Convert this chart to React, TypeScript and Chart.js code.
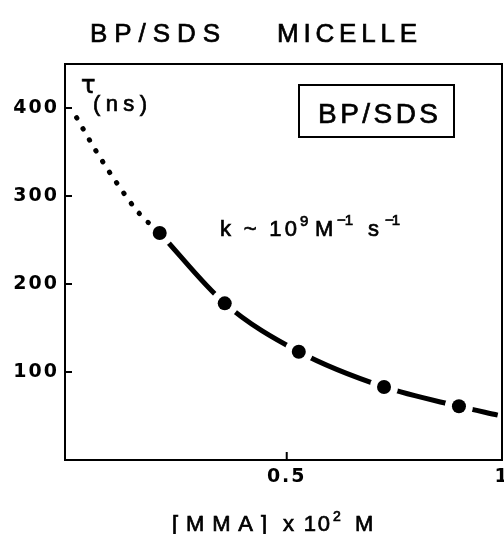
import React, { useEffect, useRef } from 'react';
import { Chart, registerables } from 'chart.js';

Chart.register(...registerables);

// ---- data ----
const mmaConc = [0.205, 0.356, 0.528, 0.726, 0.9];
const lifetimeNs = [258, 178, 123, 83, 61];

const fitConc = [0.205, 0.356, 0.528, 0.726, 0.9, 0.99];
const fitLifetime = [258, 178, 123, 83, 61, 51];

const extrapConc = [0.012, 0.056, 0.105, 0.156, 0.205];
const extrapLifetime = [389, 352, 315, 281, 258];

const xTickValues = [0.5, 1];
const xTickLabels = ['0.5', '1'];
const yTickValues = [100, 200, 300, 400];
const yTickLabels = ['100', '200', '300', '400'];

const titleLeft = 'BP/SDS';
const titleRight = 'MICELLE';
const boxLabel = 'BP/SDS';
const tauSymbol = 'τ';
const tauUnit = '(ns)';
const rateMain = 'k ~ 10';
const rateExp = '9';
const rateM = 'M';
const rateInv = '−1';
const rateS = 's';
const xTitleBracket = '[MMA]';
const xTitleTimes = 'x 10';
const xTitleExp = '2';
const xTitleUnit = 'M';

const toPts = (xs: number[], ys: number[]) => xs.map((x, i) => ({ x, y: ys[i] }));

function fitText(ctx: CanvasRenderingContext2D, text: string, x: number, y: number, width: number, font: string) {
  ctx.font = font;
  (ctx as any).letterSpacing = '0px';
  const w = ctx.measureText(text).width;
  const n = Array.from(text).length;
  const ls = n > 1 ? (width - w) / (n - 1) : 0;
  (ctx as any).letterSpacing = ls + 'px';
  ctx.textAlign = 'left';
  ctx.lineWidth = 0.7;
  ctx.strokeStyle = '#000';
  ctx.fillText(text, x, y);
  ctx.strokeText(text, x, y);
  (ctx as any).letterSpacing = '0px';
}

const framePlugin = {
  id: 'frame',
  beforeDraw(chart: any) {
    chart.ctx.letterSpacing = '2px';
  },
  beforeDatasetsDraw(chart: any) {
    const ctx = chart.ctx;
    ctx.letterSpacing = '0px';
    const { left, right, top, bottom } = chart.chartArea;
    ctx.save();
    ctx.strokeStyle = '#000';
    ctx.lineWidth = 2;
    ctx.strokeRect(left, top, right - left, bottom - top);
    const ys = chart.scales.y;
    yTickValues.forEach((v) => {
      const p = ys.getPixelForValue(v);
      ctx.beginPath();
      ctx.moveTo(left, p);
      ctx.lineTo(left + 7, p);
      ctx.stroke();
    });
    const xs = chart.scales.x;
    xTickValues.forEach((v) => {
      const p = xs.getPixelForValue(v);
      ctx.beginPath();
      ctx.moveTo(p, bottom);
      ctx.lineTo(p, bottom - 8);
      ctx.stroke();
    });
    ctx.restore();
  },
  afterDraw(chart: any) {
    const ctx = chart.ctx as CanvasRenderingContext2D;
    ctx.save();
    ctx.fillStyle = '#000';
    ctx.textBaseline = 'alphabetic';
    const sans = '"Liberation Sans", Arial, sans-serif';
    // title
    fitText(ctx, titleLeft, 90, 42, 130, `26px ${sans}`);
    fitText(ctx, titleRight, 277, 42, 140, `26px ${sans}`);
    // boxed label
    ctx.strokeStyle = '#000';
    ctx.lineWidth = 2;
    ctx.strokeRect(299, 85, 155, 52);
    fitText(ctx, boxLabel, 318, 123, 120, `28px ${sans}`);
    // tau (ns)
    fitText(ctx, tauSymbol, 81, 93, 16, `24px "DejaVu Sans", sans-serif`);
    fitText(ctx, tauUnit, 93, 111, 54, `22px ${sans}`);
    // rate constant
    fitText(ctx, rateMain, 220, 236, 77, `22px ${sans}`);
    fitText(ctx, rateExp, 300, 226, 8, `15px ${sans}`);
    fitText(ctx, rateM, 315, 236, 22, `22px ${sans}`);
    fitText(ctx, rateInv, 337, 225, 16, `15px ${sans}`);
    fitText(ctx, rateS, 368, 236, 14, `22px ${sans}`);
    fitText(ctx, rateInv, 385, 225, 15, `15px ${sans}`);
    // x axis title
    fitText(ctx, xTitleBracket, 172, 531, 95, `22px ${sans}`);
    fitText(ctx, xTitleTimes, 283, 531, 47, `22px ${sans}`);
    fitText(ctx, xTitleExp, 333, 521, 7, `14px ${sans}`);
    fitText(ctx, xTitleUnit, 355, 531, 23, `22px ${sans}`);
    ctx.restore();
  },
};

export default function App() {
  const ref = useRef<HTMLCanvasElement | null>(null);

  useEffect(() => {
    if (!ref.current) return;
    const tickFont = { family: '"DejaVu Sans", sans-serif', weight: 'bold' as const, size: 19 };
    const chart = new Chart(ref.current, {
      type: 'line',
      data: {
        datasets: [
          { label: 'extrapolation', data: toPts(extrapConc, extrapLifetime), borderColor: '#000', borderWidth: 5, borderDash: [0.5, 12.2], borderCapStyle: 'round', pointRadius: 0, cubicInterpolationMode: 'monotone', order: 1.5 },
          { label: 'fit', data: toPts(fitConc, fitLifetime), borderColor: '#000', borderWidth: 5, borderCapStyle: 'butt', pointRadius: 0, cubicInterpolationMode: 'monotone', order: 3 },
          { label: 'halo', data: toPts(mmaConc, lifetimeNs), showLine: false, pointRadius: 14, pointBackgroundColor: '#fff', pointBorderWidth: 0, order: 2 },
          { label: 'tau', data: toPts(mmaConc, lifetimeNs), showLine: false, pointRadius: 7, pointBackgroundColor: '#000', pointBorderWidth: 0, order: 1 },
        ],
      },
      options: {
        responsive: false,
        animation: false,
        devicePixelRatio: 1,
        layout: { autoPadding: false, padding: { top: 64, right: 2, left: 0, bottom: 0 } },
        plugins: { legend: { display: false }, tooltip: { enabled: false }, title: { display: false } },
        scales: {
          x: {
            type: 'linear', min: -0.015, max: 1.0,
            grid: { display: false, drawTicks: false }, border: { display: false },
            ticks: { font: tickFont, color: '#000', padding: 6, maxRotation: 0, autoSkip: false,
              callback: (v: any) => { const i = xTickValues.indexOf(Number(v)); return i >= 0 ? xTickLabels[i] : ''; } },
            afterBuildTicks: (s: any) => { s.ticks = xTickValues.map((v) => ({ value: v })); },
            afterFit: (s: any) => { s.height = 74; s.paddingLeft = 0; s.paddingRight = 0; },
          },
          y: {
            type: 'linear', min: 0, max: 450,
            grid: { display: false, drawTicks: false }, border: { display: false },
            ticks: { font: tickFont, color: '#000', padding: 6,
              callback: (v: any) => { const i = yTickValues.indexOf(Number(v)); return i >= 0 ? yTickLabels[i] : ''; } },
            afterBuildTicks: (s: any) => { s.ticks = yTickValues.map((v) => ({ value: v })); },
            afterFit: (s: any) => { s.width = 65; s.paddingTop = 0; s.paddingBottom = 0; },
          },
        },
      },
      plugins: [framePlugin],
    } as any);
    return () => chart.destroy();
  }, []);

  return (
    <div style={{ position: 'fixed', left: 0, top: 0, width: 504, height: 534, background: '#fff' }}>
      <canvas ref={ref} width={504} height={534} style={{ display: 'block' }} />
    </div>
  );
}
